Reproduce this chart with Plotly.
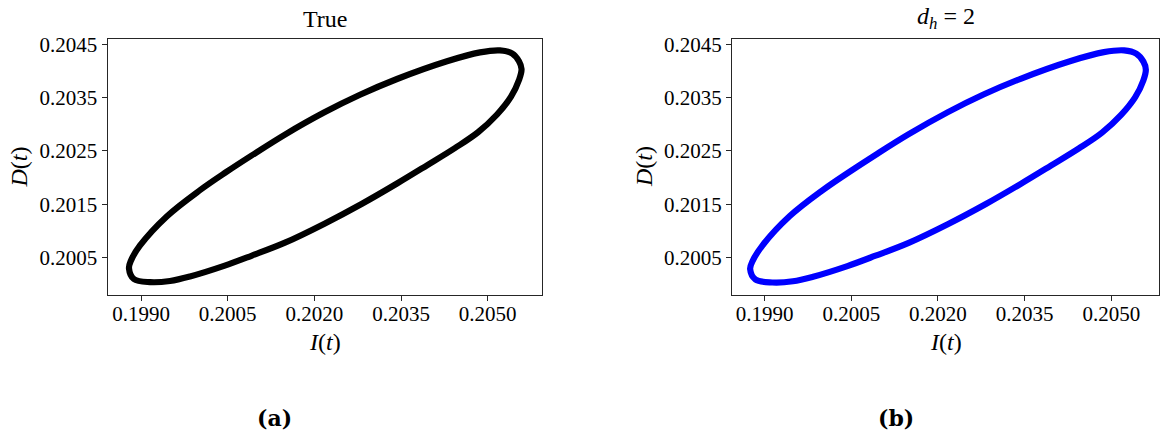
import plotly.graph_objects as go

# Limit cycle in the (I, D) plane, traced counter-clockwise
i_true = [0.202167, 0.202825, 0.203431, 0.203950, 0.204435, 0.204833, 0.205162,
          0.205404, 0.205542, 0.205586, 0.205542, 0.205421, 0.205213, 0.204867,
          0.204296, 0.203431, 0.202790, 0.202167, 0.201492, 0.200921, 0.200471,
          0.200021, 0.199450, 0.198983, 0.198827, 0.198792, 0.198879, 0.199156,
          0.199502, 0.199848, 0.200437, 0.200921, 0.201492, 0.202167]
d_true = [0.201130, 0.201509, 0.201889, 0.202231, 0.202556, 0.202852, 0.203185,
          0.203519, 0.203833, 0.204037, 0.204185, 0.204333, 0.204389, 0.204352,
          0.204185, 0.203852, 0.203556, 0.203222, 0.202809, 0.202420, 0.202102,
          0.201765, 0.201276, 0.200726, 0.200444, 0.200296, 0.200093, 0.200037,
          0.200059, 0.200144, 0.200343, 0.200537, 0.200778, 0.201130]

# Reconstruction with hidden dimension d_h = 2
i_dh2 = [0.202170, 0.202830, 0.203435, 0.203955, 0.204440, 0.204840, 0.205170,
         0.205415, 0.205555, 0.205598, 0.205556, 0.205432, 0.205222, 0.204872,
         0.204298, 0.203430, 0.202788, 0.202165, 0.201488, 0.200915, 0.200462,
         0.200010, 0.199436, 0.198962, 0.198795, 0.198750, 0.198842, 0.199132,
         0.199490, 0.199840, 0.200433, 0.200920, 0.201494, 0.202170]
d_dh2 = [0.201125, 0.201505, 0.201884, 0.202226, 0.202550, 0.202846, 0.203178,
         0.203512, 0.203825, 0.204028, 0.204178, 0.204328, 0.204390, 0.204356,
         0.204190, 0.203856, 0.203560, 0.203225, 0.202812, 0.202424, 0.202104,
         0.201768, 0.201278, 0.200724, 0.200440, 0.200284, 0.200088, 0.200031,
         0.200053, 0.200139, 0.200339, 0.200534, 0.200775, 0.201125]

x_ticks = [0.1990, 0.2005, 0.2020, 0.2035, 0.2050]
x_tick_text = ["0.1990", "0.2005", "0.2020", "0.2035", "0.2050"]
y_ticks = [0.2005, 0.2015, 0.2025, 0.2035, 0.2045]
y_tick_text = ["0.2005", "0.2015", "0.2025", "0.2035", "0.2045"]

panel_titles = ["True", "<i>d</i><sub><i>h</i></sub> = 2"]
panel_tags = ["(a)", "(b)"]

W, H = 1161, 435
SERIF = "Liberation Serif, Times New Roman, serif"

# axes boxes in pixels: (left, right, top, bottom)
boxes = [(107.5, 541.7, 33.3, 293.3), (732.0, 1159.0, 33.3, 293.3)]
x_ranges = [[0.19842, 0.205935], [0.198436, 0.205826]]
y_range = [0.199791, 0.204606]

fig = go.Figure()
series = [(i_true, d_true, "#000000"), (i_dh2, d_dh2, "#0000ff")]
for k, (xs, ys, col) in enumerate(series):
    suffix = "" if k == 0 else "2"
    fig.add_trace(go.Scatter(
        x=xs, y=ys, mode="lines",
        line=dict(color=col, width=6.2, shape="spline", smoothing=1.0),
        xaxis="x" + suffix, yaxis="y" + suffix, showlegend=False,
        hoverinfo="skip",
    ))

axis_common = dict(
    showgrid=False, zeroline=False, showline=True, mirror=True,
    linecolor="#262626", linewidth=1, ticks="outside", ticklen=5,
    tickwidth=1, tickcolor="#262626",
    tickfont=dict(family=SERIF, size=21, color="#000000"),
)

layout = dict(
    width=W, height=H, margin=dict(l=0, r=0, t=0, b=0),
    paper_bgcolor="white", plot_bgcolor="white", showlegend=False,
)
annotations = []
for k, (l, r, t, b) in enumerate(boxes):
    suffix = "" if k == 0 else "2"
    layout["xaxis" + suffix] = dict(
        axis_common, domain=[l / W, r / W], range=x_ranges[k],
        tickvals=x_ticks, ticktext=x_tick_text, anchor="y" + suffix,
        ticklabelstandoff=-5,
    )
    layout["yaxis" + suffix] = dict(
        axis_common, domain=[1 - b / H, 1 - t / H], range=y_range,
        tickvals=y_ticks, ticktext=y_tick_text, anchor="x" + suffix,
    )
    cx = (l + r) / 2
    annotations.append(dict(
        text=panel_titles[k], x=cx / W, y=1 - (13 if k == 0 else 12) / H,
        xref="paper", yref="paper", xanchor="center", yanchor="middle",
        showarrow=False, font=dict(family=SERIF, size=24, color="#000000"),
    ))
    annotations.append(dict(
        text="<i>I</i>(<i>t</i>)", x=cx / W, y=1 - 341 / H,
        xref="paper", yref="paper", xanchor="center", yanchor="middle",
        showarrow=False, font=dict(family=SERIF, size=24, color="#000000"),
    ))
    annotations.append(dict(
        text="<i>D</i>(<i>t</i>)", x=(l - 88) / W, y=1 - (t + b) / 2 / H,
        xref="paper", yref="paper", xanchor="center", yanchor="middle",
        textangle=-90, showarrow=False,
        font=dict(family=SERIF, size=24, color="#000000"),
    ))
    annotations.append(dict(
        text="<b>" + panel_tags[k] + "</b>",
        x=(274 if k == 0 else 896) / W, y=1 - 418 / H,
        xref="paper", yref="paper", xanchor="center", yanchor="middle",
        showarrow=False, font=dict(family="DejaVu Serif, serif", size=22, color="#000000"),
    ))
layout["annotations"] = annotations
fig.update_layout(**layout)

fig.write_html("out.html")
